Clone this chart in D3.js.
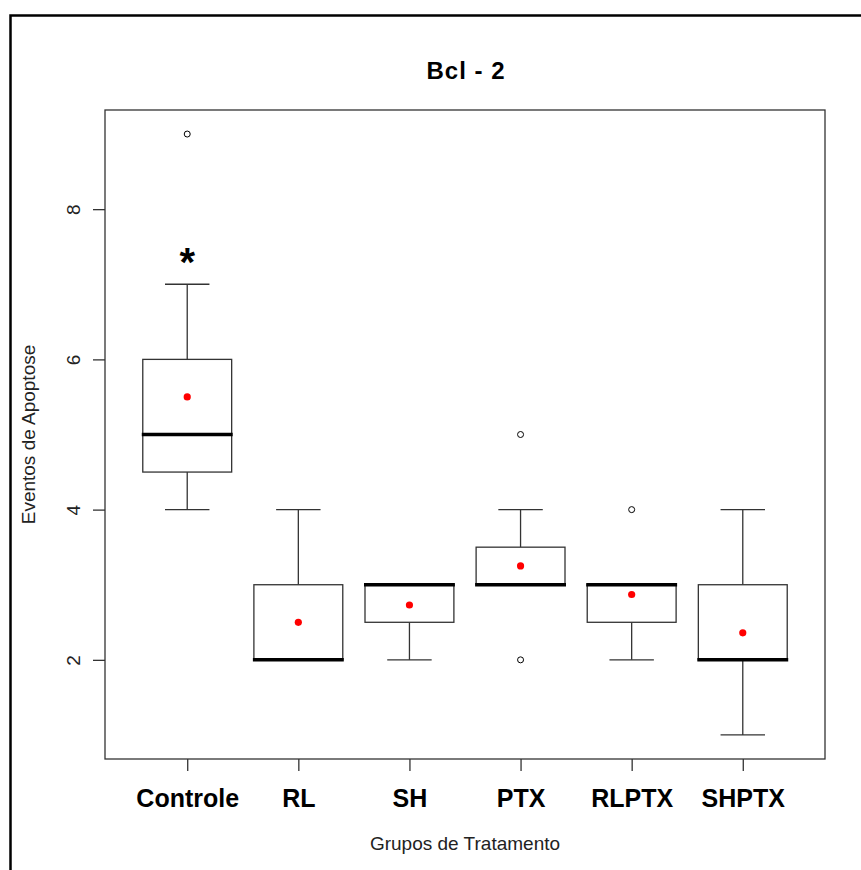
<!DOCTYPE html>
<html>
<head>
<meta charset="utf-8">
<script src="https://cdn.jsdelivr.net/npm/d3@7"></script>
<style>
  body { margin: 0; background: #fff; }
  svg { display: block; font-family: "Liberation Sans", Arial, sans-serif; }
</style>
</head>
<body>
<div id="chart"></div>
<script>
// data
var groups = ["Controle", "RL", "SH", "PTX", "RLPTX", "SHPTX"];
var lowWhisker = [4, 2, 2, 3, 2, 1];
var q1 = [4.5, 2, 2.5, 3, 2.5, 2];
var medians = [5, 2, 3, 3, 3, 2];
var q3 = [6, 3, 3, 3.5, 3, 3];
var highWhisker = [7, 4, 3, 4, 3, 4];
var means = [5.5, 2.5, 2.73, 3.25, 2.87, 2.36];
var outliers = [[9], [], [], [5, 2], [4], []];
var yTicks = [2, 4, 6, 8];

var svgWidth = 861;
var svgHeight = 870;
var plot = { left: 105, right: 825, top: 110, bottom: 759 };

var svg = d3.select("#chart").append("svg")
    .attr("width", svgWidth)
    .attr("height", svgHeight);

// outer frame (runs off the right and bottom edges)
svg.append("rect")
    .attr("x", 10.5).attr("y", 15.5)
    .attr("width", 900).attr("height", 900)
    .attr("fill", "none")
    .attr("stroke", "#000")
    .attr("stroke-width", 2.5);

var x = d3.scaleLinear().domain([0.26, 6.74]).range([plot.left, plot.right]);
var y = d3.scaleLinear().domain([0.68, 9.32]).range([plot.bottom, plot.top]);

var boxW = (x(1) - x(0)) * 0.8;
var capW = boxW / 2;

var stats = groups.map(function(g, i) {
    return { name: g, i: i + 1, lo: lowWhisker[i], q1: q1[i], med: medians[i],
             q3: q3[i], hi: highWhisker[i], mean: means[i], out: outliers[i] };
});

var boxes = svg.selectAll("g.box")
    .data(stats)
    .enter()
    .append("g")
    .attr("class", "box");

// whiskers
boxes.append("line")
    .attr("x1", d => x(d.i)).attr("x2", d => x(d.i))
    .attr("y1", d => y(d.q3)).attr("y2", d => y(d.hi))
    .attr("stroke", "#333").attr("stroke-width", 1.3);
boxes.append("line")
    .attr("x1", d => x(d.i)).attr("x2", d => x(d.i))
    .attr("y1", d => y(d.q1)).attr("y2", d => y(d.lo))
    .attr("stroke", "#333").attr("stroke-width", 1.3);
// caps
boxes.append("line")
    .attr("x1", d => x(d.i) - capW / 2).attr("x2", d => x(d.i) + capW / 2)
    .attr("y1", d => y(d.hi)).attr("y2", d => y(d.hi))
    .attr("stroke", "#333").attr("stroke-width", 1.3);
boxes.append("line")
    .attr("x1", d => x(d.i) - capW / 2).attr("x2", d => x(d.i) + capW / 2)
    .attr("y1", d => y(d.lo)).attr("y2", d => y(d.lo))
    .attr("stroke", "#333").attr("stroke-width", 1.3);

// box
boxes.append("rect")
    .attr("x", d => x(d.i) - boxW / 2)
    .attr("y", d => y(d.q3))
    .attr("width", boxW)
    .attr("height", d => y(d.q1) - y(d.q3))
    .attr("fill", "#fff")
    .attr("stroke", "#333")
    .attr("stroke-width", 1.3);

// median
boxes.append("line")
    .attr("x1", d => x(d.i) - boxW / 2 - 1).attr("x2", d => x(d.i) + boxW / 2 + 1)
    .attr("y1", d => y(d.med)).attr("y2", d => y(d.med))
    .attr("stroke", "#000").attr("stroke-width", 3.5);

// outliers
boxes.selectAll("circle.out")
    .data(d => d.out.map(v => ({ i: d.i, v: v })))
    .enter()
    .append("circle")
    .attr("class", "out")
    .attr("cx", d => x(d.i))
    .attr("cy", d => y(d.v))
    .attr("r", 3)
    .attr("fill", "none")
    .attr("stroke", "#000")
    .attr("stroke-width", 1);

// means
boxes.append("circle")
    .attr("cx", d => x(d.i))
    .attr("cy", d => y(d.mean))
    .attr("r", 3.6)
    .attr("fill", "#ff0000");

// significance mark
svg.append("text")
    .attr("x", x(1))
    .attr("y", 276)
    .attr("text-anchor", "middle")
    .style("font-size", "40px")
    .style("font-weight", "bold")
    .text("*");

// plot frame
svg.append("rect")
    .attr("x", plot.left).attr("y", plot.top)
    .attr("width", plot.right - plot.left)
    .attr("height", plot.bottom - plot.top)
    .attr("fill", "none")
    .attr("stroke", "#333")
    .attr("stroke-width", 1.3);

// y axis
var yAxis = svg.append("g")
    .attr("transform", `translate(${plot.left},0)`)
    .call(d3.axisLeft(y).tickValues(yTicks).tickSize(12).tickFormat(d3.format("d")));
yAxis.select(".domain").remove();
yAxis.selectAll(".tick line").attr("stroke", "#333").attr("stroke-width", 1.3);
yAxis.selectAll(".tick text")
    .attr("x", null).attr("dy", null)
    .attr("transform", "translate(-32,0) rotate(-90)")
    .attr("text-anchor", "middle")
    .attr("dominant-baseline", "central")
    .attr("fill", "#222")
    .style("font-size", "19px")
    .style("font-family", "'Liberation Sans', Arial, sans-serif");

// x axis
var xAxis = svg.append("g")
    .attr("transform", `translate(0,${plot.bottom})`)
    .call(d3.axisBottom(x).tickValues(d3.range(1, groups.length + 1)).tickSize(12)
        .tickFormat(d => groups[d - 1]));
xAxis.select(".domain").remove();
xAxis.selectAll(".tick line").attr("stroke", "#333").attr("stroke-width", 1.3);
xAxis.selectAll(".tick text")
    .attr("y", 39).attr("dy", null)
    .attr("dominant-baseline", "central")
    .attr("fill", "#000")
    .style("font-size", "25px")
    .style("font-weight", "bold")
    .style("font-family", "'Liberation Sans', Arial, sans-serif");

// titles
svg.append("text")
    .attr("x", (plot.left + plot.right) / 2 + 1)
    .attr("y", 70)
    .attr("text-anchor", "middle")
    .attr("dominant-baseline", "central")
    .style("font-size", "24px")
    .style("font-weight", "bold")
    .style("letter-spacing", "1px")
    .text("Bcl - 2");

svg.append("text")
    .attr("x", (plot.left + plot.right) / 2)
    .attr("y", 843)
    .attr("text-anchor", "middle")
    .attr("dominant-baseline", "central")
    .attr("fill", "#222")
    .style("font-size", "19px")
    .text("Grupos de Tratamento");

svg.append("text")
    .attr("transform", `translate(28,${(plot.top + plot.bottom) / 2}) rotate(-90)`)
    .attr("text-anchor", "middle")
    .attr("dominant-baseline", "central")
    .attr("fill", "#222")
    .style("font-size", "19px")
    .text("Eventos de Apoptose");
</script>
</body>
</html>
